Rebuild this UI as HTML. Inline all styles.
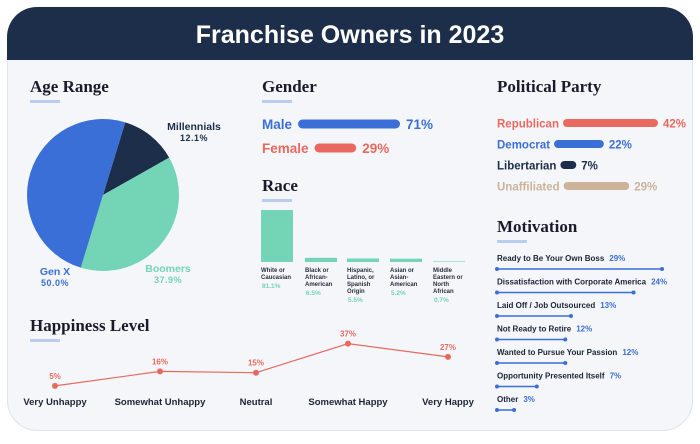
<!DOCTYPE html>
<html><head><meta charset="utf-8"><style>
body{margin:0;width:700px;height:439px;background:#fff;font-family:"Liberation Sans",sans-serif;overflow:hidden}
svg text{font-family:"Liberation Sans",sans-serif}
.serif{font-family:"Liberation Serif",serif;font-weight:bold}
</style></head><body>
<svg width="700" height="439" viewBox="0 0 700 439" xmlns="http://www.w3.org/2000/svg">
<rect x="7.5" y="7.5" width="685" height="423" rx="30" fill="#f4f6fa" stroke="#dfe3ea"/>
<path d="M7 60 V37 A30 30 0 0 1 37 7 H663 A30 30 0 0 1 693 37 V60 Z" fill="#1c2e4a"/>
<text x="350" y="43" text-anchor="middle" fill="#fff" font-size="25" font-weight="bold">Franchise Owners in 2023</text>

<g id="titles">
<text class="serif" x="30" y="92" font-size="17" fill="#1a1a2a">Age Range</text>
<rect x="30" y="100" width="30" height="3" fill="#b9cdf1"/>
<text class="serif" x="262" y="92" font-size="17" fill="#1a1a2a">Gender</text>
<rect x="262" y="100" width="30" height="3" fill="#b9cdf1"/>
<text class="serif" x="262" y="191" font-size="17" fill="#1a1a2a">Race</text>
<rect x="262" y="199" width="30" height="3" fill="#b9cdf1"/>
<text class="serif" x="497" y="92" font-size="17" fill="#1a1a2a">Political Party</text>
<text class="serif" x="497" y="232" font-size="17" fill="#1a1a2a">Motivation</text>
<rect x="497" y="240" width="30" height="3" fill="#b9cdf1"/>
<text class="serif" x="30" y="331" font-size="17" fill="#1a1a2a">Happiness Level</text>
<rect x="30" y="339" width="30" height="3" fill="#b9cdf1"/>
</g>
<g id="pie"></g><g id="gender"></g><g id="race"></g><g id="party"></g><g id="motiv"></g><g id="happy"></g>
</svg>
<script>
const ageLabels=["Millennials","Boomers","Gen X"];
const ageValues=[12.1,37.9,50.0];
const genderLabels=["Male","Female"];
const genderValues=[71,29];
const raceLabels=[["White or","Caucasian"],["Black or","African-","American"],["Hispanic,","Latino, or","Spanish","Origin"],["Asian or","Asian-","American"],["Middle","Eastern or","North","African"]];
const raceValues=[81.1,6.5,5.5,5.2,0.7];
const partyLabels=["Republican","Democrat","Libertarian","Unaffiliated"];
const partyValues=[42,22,7,29];
const motivLabels=["Ready to Be Your Own Boss","Dissatisfaction with Corporate America","Laid Off / Job Outsourced","Not Ready to Retire","Wanted to Pursue Your Passion","Opportunity Presented Itself","Other"];
const motivValues=[29,24,13,12,12,7,3];
const happyLabels=["Very Unhappy","Somewhat Unhappy","Neutral","Somewhat Happy","Very Happy"];
const happyValues=[5,16,15,37,27];

const NS="http://www.w3.org/2000/svg";
function mk(p,tag,a,txt){const e=document.createElementNS(NS,tag);for(const k in a)e.setAttribute(k,a[k]);if(txt!=null)e.textContent=txt;p.appendChild(e);return e;}

// Pie
const pie=document.getElementById('pie');
const cx=103,cy=195,r=76,pieColors=["#1c2e4a","#73d4b6","#3b6fd8"];
const total=ageValues.reduce((a,b)=>a+b,0);
let ang=17*Math.PI/180;
const pt=a=>[cx+r*Math.sin(a),cy-r*Math.cos(a)];
ageValues.forEach((v,i)=>{
  const a2=ang+v/total*2*Math.PI;const [x1,y1]=pt(ang),[x2,y2]=pt(a2);
  const s=mk(pie,'path',{d:`M${cx} ${cy}L${x1} ${y1}A${r} ${r} 0 ${a2-ang>Math.PI?1:0} 1 ${x2} ${y2}Z`,fill:pieColors[i]});
  
  
  ang=a2;
});
const pieLab=[[194,130,"#1c2e4a"],[168,272,"#73d4b6"],[55,275,"#3b6fd8"]];
ageLabels.forEach((l,i)=>{
  const [x,y,c]=pieLab[i];
  const t=mk(pie,'text',{x:x,y:y,'text-anchor':'middle','font-size':10.5,'font-weight':'bold',fill:c},l);
   
  const p=mk(pie,'text',{x:x,y:y+11,'text-anchor':'middle','font-size':9,'font-weight':'bold',fill:i==0?"#1c2e4a":c,'letter-spacing':'0.5'},ageValues[i].toFixed(1)+'%');
   
});

// Gender
const g=document.getElementById('gender');
const gColors=["#3b6fd8","#e8695f"],gScale=102/71;
genderLabels.forEach((l,i)=>{
  const y=124+i*24;
  const t=mk(g,'text',{x:262,y:y+5,'font-size':13.5,'font-weight':'bold',fill:gColors[i]},l);
   
  const x0=262+t.getComputedTextLength()+6;
  const w=genderValues[i]*gScale;
  const b=mk(g,'rect',{x:x0,y:y-4.5,width:w,height:9,rx:4.5,fill:gColors[i]});
   
  const v=mk(g,'text',{x:x0+w+6,y:y+5,'font-size':13.5,'font-weight':'bold',fill:gColors[i]},genderValues[i]+'%');
   
});

// Race
const rc=document.getElementById('race');
const base=262,rScale=52/81.1,rx0=[261,305,347,390,433];
raceValues.forEach((v,i)=>{
  const h=Math.max(v*rScale,1);
  const b=mk(rc,'rect',{x:rx0[i],y:base-h,width:32,height:h,fill:i==4?"#a8e6d2":"#73d4b6"});
   
  raceLabels[i].forEach((ln,j)=>{
    const t=mk(rc,'text',{x:rx0[i],y:base+10+j*7,'font-size':6,'font-weight':'bold',fill:"#2a2f3f"},ln);
     
  });
  const p=mk(rc,'text',{x:rx0[i]+1,y:base+12+raceLabels[i].length*7,'font-size':6.5,'font-weight':'bold',fill:"#73d4b6"},v+'%');
   
});

// Party
const pa=document.getElementById('party');
const pColors=["#e8695f","#3b6fd8","#1c2e4a","#cdb39a"],pScale=95/42;
partyLabels.forEach((l,i)=>{
  const y=123+i*21;
  const t=mk(pa,'text',{x:497,y:y+4.5,'font-size':11.5,'font-weight':'bold',fill:pColors[i]},l);
   
  const x0=497+t.getComputedTextLength()+4;
  const w=partyValues[i]*pScale;
  const b=mk(pa,'rect',{x:x0,y:y-4,width:w,height:8,rx:4,fill:pColors[i]});
   
  const v=mk(pa,'text',{x:x0+w+5,y:y+4.5,'font-size':11.5,'font-weight':'bold',fill:pColors[i]},partyValues[i]+'%');
   
});

// Motivation
const mo=document.getElementById('motiv');
const mScale=165/29;
motivLabels.forEach((l,i)=>{
  const y=261+i*23.5;
  const t=mk(mo,'text',{x:497,y:y,'font-size':8,'font-weight':'bold',fill:"#1c2433"},l);
   
  const tw=t.getComputedTextLength();
  const v=mk(mo,'text',{x:497+tw+5,y:y,'font-size':8,'font-weight':'bold',fill:"#3b6fd8"},motivValues[i]+'%');
   
  const x2=497+motivValues[i]*mScale,ly=y+8;
  const ln=mk(mo,'line',{x1:497,y1:ly,x2:x2,y2:ly,stroke:"#3b6fd8",'stroke-width':1.5});
   
  [497,x2].forEach(x=>{const c=mk(mo,'circle',{cx:x,cy:ly,r:2,fill:"#3b6fd8"});
     });
});

// Happiness
const hp=document.getElementById('happy');
const hx=[55,160,256,348,448];
const hy=v=>392.5-v*1.32;
const pl=mk(hp,'polyline',{points:happyValues.map((v,i)=>hx[i]+','+hy(v)).join(' '),fill:'none',stroke:"#e8695f",'stroke-width':1.2});
 
happyValues.forEach((v,i)=>{
  const c=mk(hp,'circle',{cx:hx[i],cy:hy(v),r:3,fill:"#e8695f"});
   
  const t=mk(hp,'text',{x:hx[i],y:hy(v)-7,'text-anchor':'middle','font-size':8,'font-weight':'bold',fill:"#e8695f"},v+'%');
   
  const l=mk(hp,'text',{x:hx[i],y:405,'text-anchor':'middle','font-size':9.5,'font-weight':'bold',fill:"#1c2433"},happyLabels[i]);
   
});
</script>
</body></html>
